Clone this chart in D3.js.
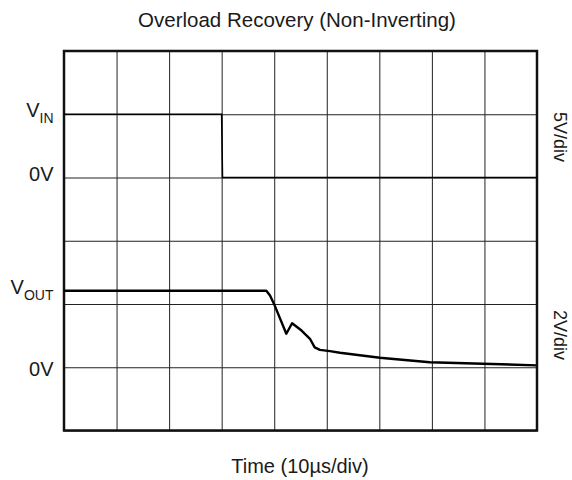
<!DOCTYPE html>
<html><head><meta charset="utf-8">
<script src="https://cdn.jsdelivr.net/npm/d3@7"></script>
<style>
body{margin:0;background:#fff;}
text{font-family:"Liberation Sans",Arial,sans-serif;fill:#1a1a1a;}
</style></head>
<body><svg id="c" width="572" height="480"></svg>
<script>
// ---- data ----
const title = "Overload Recovery (Non-Inverting)";
const xLabel = "Time (10µs/div)";
const timeTicks = [0,10,20,30,40,50,60,70,80,90];          // µs, 10 µs/div
const vinTicks = [-20,-15,-10,-5,0,5,10];                  // V, 5 V/div
const vinTime = [0, 30, 30.15, 90];                         // µs
const vinVolt = [5, 5, 0, 0];                               // V
const voutTime = [0, 38.5, 39.2, 40.1, 42.3, 43.4, 45.2, 46.8, 47.7, 48.7, 50.6, 52.5, 60.1, 69.6, 79.7, 89.9];
const voutVolt = [2.42, 2.42, 2.27, 1.95, 1.06, 1.39, 1.16, 0.90, 0.63, 0.55, 0.51, 0.46, 0.30, 0.16, 0.11, 0.06];
const scaleLabels = ["5V/div", "2V/div"];

// ---- layout ----
const L = 64, R = 537, T = 51, B = 430.5;
const svg = d3.select("#c");
const x = d3.scaleLinear().domain([0, 90]).range([L, R]);
const yIn = d3.scaleLinear().domain([-20, 10]).range([B, T]);
const yOut = d3.scaleLinear().domain([-2, 10]).range([B, T]);

// grid via axes
const gx = svg.append("g").attr("transform", `translate(0,${B})`)
  .call(d3.axisBottom(x).tickValues(timeTicks).tickSize(-(B - T)).tickFormat(""));
const gy = svg.append("g").attr("transform", `translate(${L},0)`)
  .call(d3.axisLeft(yIn).tickValues(vinTicks).tickSize(-(R - L)).tickFormat(""));
[gx, gy].forEach(g => {
  g.select(".domain").remove();
  g.selectAll(".tick line").attr("stroke", "#222").attr("stroke-width", 1);
});

// frame
svg.append("rect").attr("x", L).attr("y", T).attr("width", R - L).attr("height", B - T)
  .attr("fill", "none").attr("stroke", "#111").attr("stroke-width", 2.5);

// traces
const vin = vinTime.map((t, i) => [t, vinVolt[i]]);
const vout = voutTime.map((t, i) => [t, voutVolt[i]]);
svg.append("path").datum(vin)
  .attr("d", d3.line().x(d => x(d[0])).y(d => yIn(d[1])))
  .attr("fill", "none").attr("stroke", "#000").attr("stroke-width", 1.6);
svg.append("path").datum(vout)
  .attr("d", d3.line().x(d => x(d[0])).y(d => yOut(d[1])))
  .attr("fill", "none").attr("stroke", "#000").attr("stroke-width", 2.4).attr("stroke-linejoin", "round");

// title & axis label
svg.append("text").attr("x", 297).attr("y", 27).attr("text-anchor", "middle")
  .attr("font-size", 20.5).text(title);
svg.append("text").attr("x", 300).attr("y", 473).attr("text-anchor", "middle")
  .attr("font-size", 20).text(xLabel);

// left channel labels
function subLabel(main, sub, yBase) {
  const t = svg.append("text").attr("x", 53.5).attr("y", yBase).attr("text-anchor", "end").attr("font-size", 20);
  t.append("tspan").text(main);
  t.append("tspan").attr("font-size", 14).attr("dy", 6).text(sub);
}
subLabel("V", "IN", yIn(5) + 3);
svg.append("text").attr("x", 53.5).attr("y", yIn(0) + 3).attr("text-anchor", "end").attr("font-size", 20).text("0V");
subLabel("V", "OUT", yOut(2.42) + 3);
svg.append("text").attr("x", 53.5).attr("y", yOut(0) + 9).attr("text-anchor", "end").attr("font-size", 20).text("0V");

// right scale labels (rotated)
[[scaleLabels[0], 137], [scaleLabels[1], 335]].forEach(([s, cy]) => {
  svg.append("text").attr("transform", `translate(554,${cy}) rotate(90)`)
    .attr("text-anchor", "middle").attr("font-size", 18).text(s);
});
</script></body></html>
